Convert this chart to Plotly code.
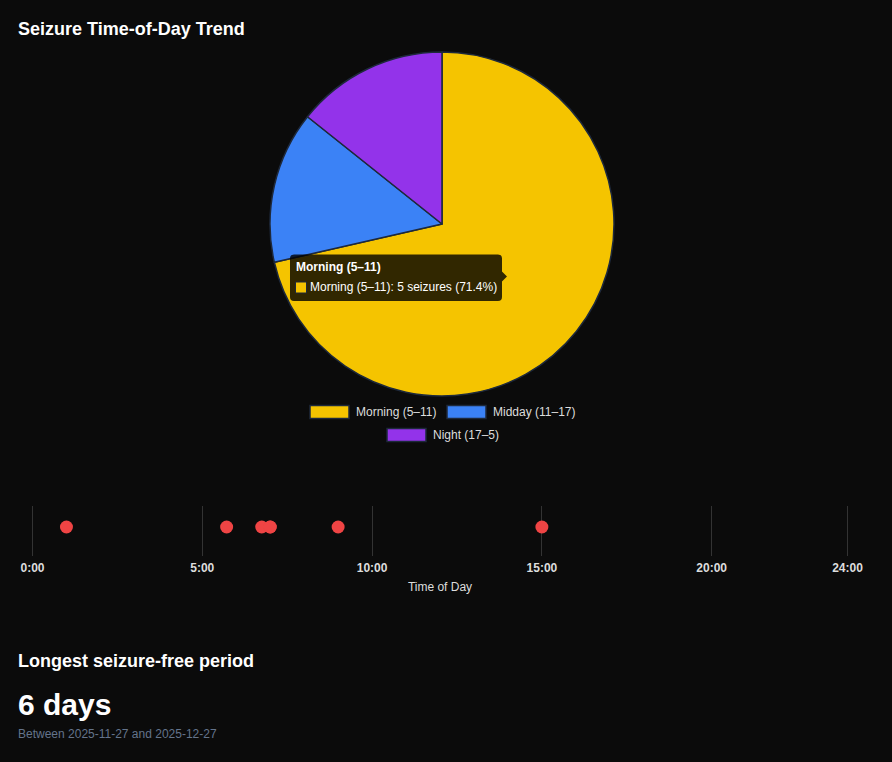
import plotly.graph_objects as go

# ---- data -------------------------------------------------------------
period_labels = ["Morning (5–11)", "Midday (11–17)", "Night (17–5)"]
period_counts = [5, 1, 1]
period_colors = ["#f5c400", "#3b82f6", "#9333ea"]

seizure_times = ["01:00", "05:43", "06:45", "07:00", "07:00", "09:00", "15:00"]

hour_ticks = [0, 5, 10, 15, 20, 24]
hour_tick_labels = ["0:00", "5:00", "10:00", "15:00", "20:00", "24:00"]

longest_free_days = 6
longest_free_start = "2025-11-27"
longest_free_end = "2025-12-27"

# ---- page geometry helpers (pixels -> paper fraction) -------------------
W, H = 892, 762
BG = "#0b0b0b"
FONT = "Liberation Sans, Arial, Helvetica, sans-serif"


def px(x):
    return x / W


def py(y):
    return 1 - y / H


def to_hours(t):
    h, m = t.split(":")
    return int(h) + int(m) / 60


fig = go.Figure()

# ---- pie ---------------------------------------------------------------
cx, cy, r = 442, 224, 172
fig.add_trace(go.Pie(
    labels=period_labels,
    values=period_counts,
    marker=dict(colors=period_colors, line=dict(color="#1e293b", width=1.5)),
    sort=False,
    direction="clockwise",
    rotation=0,
    textinfo="none",
    hoverinfo="skip",
    showlegend=False,
    domain=dict(x=[px(cx - r), px(cx + r)], y=[py(cy + r), py(cy - r)]),
))

# ---- time-of-day strip ---------------------------------------------------
hours = [to_hours(t) for t in seizure_times]
fig.add_trace(go.Scatter(
    x=hours,
    y=[0] * len(hours),
    mode="markers",
    marker=dict(size=13, color="#ef4444", line=dict(width=0)),
    hoverinfo="skip",
    showlegend=False,
    cliponaxis=False,
))

# axis spans 0h..24h between x=32.5px and x=847.5px; pad the range a little
# so the 0:00 and 24:00 grid lines are not dropped at the plot edges
ax_left, ax_right, pad_px = 32.5, 847.5, 3
hours_per_px = 24 / (ax_right - ax_left)

fig.update_layout(
    width=W,
    height=H,
    margin=dict(l=0, r=0, t=0, b=0, pad=0, autoexpand=False),
    paper_bgcolor=BG,
    plot_bgcolor="rgba(0,0,0,0)",
    font=dict(family=FONT, color="#dddddd"),
    showlegend=False,
    xaxis=dict(
        domain=[px(ax_left - pad_px), px(ax_right + pad_px)],
        range=[-pad_px * hours_per_px, 24 + pad_px * hours_per_px],
        tickvals=hour_ticks,
        ticktext=hour_tick_labels,
        showgrid=True,
        gridcolor="#333333",
        gridwidth=1,
        zeroline=False,
        showline=False,
        ticks="outside",
        ticklen=1,
        tickcolor="rgba(0,0,0,0)",
        tickfont=dict(size=12, color="#dddddd", family=FONT, weight="bold"),
        title=dict(text="Time of Day", font=dict(size=12, color="#dddddd"), standoff=8),
        automargin=False,
        fixedrange=True,
    ),
    yaxis=dict(
        domain=[py(556), py(506)],
        range=[-1.45, 1.05],
        showgrid=False,
        zeroline=False,
        showticklabels=False,
        showline=False,
        automargin=False,
        fixedrange=True,
    ),
)

shapes = []
annotations = []

# ---- legend for the pie ------------------------------------------------
legend_items = [
    (period_labels[0], period_colors[0], 310, 412),
    (period_labels[1], period_colors[1], 447, 412),
    (period_labels[2], period_colors[2], 387, 435),
]
for label, color, x0, yc in legend_items:
    shapes.append(dict(
        type="rect", xref="paper", yref="paper",
        x0=px(x0), x1=px(x0 + 39), y0=py(yc + 6.5), y1=py(yc - 6.5),
        fillcolor=color, line=dict(color="#1e293b", width=1.5), layer="above",
    ))
    annotations.append(dict(
        text=label, xref="paper", yref="paper", x=px(x0 + 44), y=py(yc),
        xanchor="left", yanchor="middle", showarrow=False,
        font=dict(size=12, color="#dddddd", family=FONT),
    ))

# ---- hover tooltip on the morning slice -------------------------------
tx0, ty0, tx1, ty1, rad = 290, 254.5, 502, 301, 4
pts = [
    ("M", tx0 + rad, ty0), ("L", tx1 - rad, ty0), ("Q", tx1, ty0, tx1, ty0 + rad),
    ("L", tx1, 271.5), ("L", tx1 + 5, 276.5), ("L", tx1, 281.5),
    ("L", tx1, ty1 - rad), ("Q", tx1, ty1, tx1 - rad, ty1),
    ("L", tx0 + rad, ty1), ("Q", tx0, ty1, tx0, ty1 - rad),
    ("L", tx0, ty0 + rad), ("Q", tx0, ty0, tx0 + rad, ty0),
]
segs = []
for p in pts:
    cmd, coords = p[0], p[1:]
    pairs = [f"{px(coords[i]):.5f},{py(coords[i + 1]):.5f}" for i in range(0, len(coords), 2)]
    segs.append(cmd + " " + " ".join(pairs))
tip_path = " ".join(segs) + " Z"

shapes.append(dict(type="path", xref="paper", yref="paper", path=tip_path,
                   fillcolor="rgba(0,0,0,0.8)", line=dict(width=0), layer="above"))
shapes.append(dict(type="rect", xref="paper", yref="paper",
                   x0=px(295.5), x1=px(306.5), y0=py(293), y1=py(282),
                   fillcolor=period_colors[0], line=dict(color="#1e293b", width=1),
                   layer="above"))

total = sum(period_counts)
pct = period_counts[0] / total * 100
annotations.append(dict(
    text=f"<b>{period_labels[0]}</b>", xref="paper", yref="paper",
    x=px(294), y=py(266.5), xanchor="left", yanchor="middle", showarrow=False,
    font=dict(size=12, color="#ffffff", family=FONT),
))
annotations.append(dict(
    text=f"{period_labels[0]}: {period_counts[0]} seizures ({pct:.1f}%)",
    xref="paper", yref="paper",
    x=px(308), y=py(287), xanchor="left", yanchor="middle", showarrow=False,
    font=dict(size=12, color="#ffffff", family=FONT),
))

# ---- headings and summary --------------------------------------------
annotations += [
    dict(text="<b>Seizure Time-of-Day Trend</b>", xref="paper", yref="paper",
         x=px(16), y=py(29), xanchor="left", yanchor="middle", showarrow=False,
         font=dict(size=18, color="#ffffff", family=FONT)),
    dict(text="<b>Longest seizure-free period</b>", xref="paper", yref="paper",
         x=px(16), y=py(661), xanchor="left", yanchor="middle", showarrow=False,
         font=dict(size=18, color="#ffffff", family=FONT)),
    dict(text=f"<b>{longest_free_days} days</b>", xref="paper", yref="paper",
         x=px(16), y=py(704.5), xanchor="left", yanchor="middle", showarrow=False,
         font=dict(size=30, color="#ffffff", family=FONT)),
    dict(text=f"Between {longest_free_start} and {longest_free_end}",
         xref="paper", yref="paper",
         x=px(16), y=py(734), xanchor="left", yanchor="middle", showarrow=False,
         font=dict(size=12, color="#64748b", family=FONT)),
]

fig.update_layout(shapes=shapes, annotations=annotations)

fig.write_html("out.html", config={"displayModeBar": False})
